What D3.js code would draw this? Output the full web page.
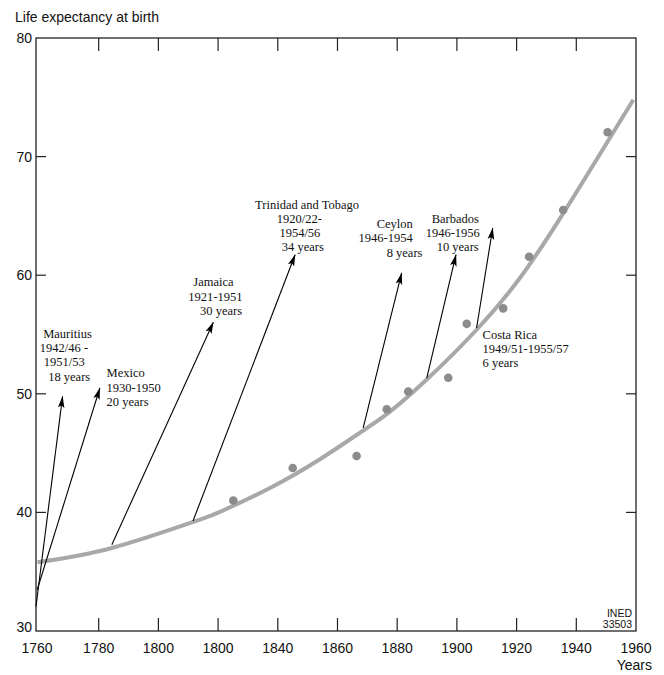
<!DOCTYPE html>
<html><head><meta charset="utf-8">
<script src="https://cdn.jsdelivr.net/npm/d3@7/dist/d3.min.js"></script>
<style>body{margin:0;background:#fff}</style>
</head><body>
<svg id="chart" width="664" height="675"></svg>
<script>
// ---- data ----
const curveYears  = [1759.5, 1784.4, 1811.7, 1820.6, 1837.4, 1854.1, 1868.6, 1877.6, 1889.9, 1906.6, 1921.1, 1934.5, 1948.0, 1959.1];
const curveValues = [35.8,   37.0,   39.2,   40.04,  42.06,  44.48,  46.9,   48.5,   51.2,   55.4,   59.76,  64.77,  70.24,  74.8];

const dotYears  = [1825.1, 1845.0, 1866.4, 1876.5, 1883.7, 1897.1, 1903.3, 1915.5, 1924.2, 1935.6, 1950.5];
const dotValues = [41.0,   43.75,  44.75,  48.7,   50.2,   51.35,  55.9,   57.2,   61.55,  65.5,   72.05];

const xTickYears  = [1760, 1780, 1800, 1820, 1840, 1860, 1880, 1900, 1920, 1940, 1960];
const xTickLabels = ["1760", "1780", "1800", "1800", "1840", "1860", "1880", "1900", "1920", "1940", "1960"];
const yTickValues = [30, 40, 50, 60, 70, 80];

const arrowNames  = ["Mauritius", "Mexico", "Jamaica", "Trinidad and Tobago", "Ceylon", "Barbados", "Costa Rica"];
const arrowLabels = [
  ["Mauritius", "1942/46 -", "1951/53", "18 years"],
  ["Mexico", "1930-1950", "20 years"],
  ["Jamaica", "1921-1951", "30 years"],
  ["Trinidad and Tobago", "1920/22-", "1954/56", "34 years"],
  ["Ceylon", "1946-1954", "8 years"],
  ["Barbados", "1946-1956", "10 years"],
  ["Costa Rica", "1949/51-1955/57", "6 years"]
];
const arrowFromYear  = [1759.0, 1759.4, 1784.4, 1811.6, 1868.6, 1889.9, 1906.6];
const arrowFromValue = [32.07,  33.48,  37.28,  39.28,  47.12,  51.33,  55.55];
const arrowToYear    = [1767.9, 1780.4, 1818.4, 1845.8, 1881.5, 1899.7, 1912.0];
const arrowToValue   = [49.78,  50.49,  56.04,  61.73,  60.19,  61.73,  63.98];

// ---- layout (label placement relative to arrow tip/base, pixels) ----
const labelLayout = [
  {ref: "to",   dx: [-19.4, -22.7, -18.7, -14.4], dy: -58.4},
  {ref: "to",   dx: [6.7, 6.7, 6.7],              dy: -10.6},
  {ref: "to",   dx: [-20, -25, -13.3],            dy: -35.8},
  {ref: "to",   dx: [-40, -18.3, -15.7, -13.3],   dy: -46},
  {ref: "to",   dx: [-25, -43.2, -15],            dy: -44.8},
  {ref: "to",   dx: [-24.3, -30.3, -19.3],        dy: -31.7},
  {ref: "from", dx: [6, 6, 6],                    dy: 10.7}
];
const lineHeight = 14.2;

const svg = d3.select("#chart");
const x = d3.scaleLinear().domain([1759, 1960]).range([36, 636]);
const y = d3.scaleLinear().domain([30, 80]).range([631, 38]);

const sans = "'Liberation Sans', Arial, Helvetica, sans-serif";
const serif = "'Liberation Serif', 'Times New Roman', Times, serif";
const frameColor = "#222";

// frame
svg.append("rect")
  .attr("x", x(1759)).attr("y", y(80))
  .attr("width", x(1960) - x(1759)).attr("height", y(30) - y(80))
  .attr("fill", "none").attr("stroke", frameColor).attr("stroke-width", 1.3);

// inner ticks
const innerX = xTickYears.slice(1, -1);
const innerY = yTickValues.slice(1, -1);
const tk = svg.append("g").attr("stroke", frameColor).attr("stroke-width", 1.2);
innerX.forEach(v => {
  tk.append("line").attr("x1", x(v)).attr("x2", x(v)).attr("y1", y(30)).attr("y2", y(30) - 13);
  tk.append("line").attr("x1", x(v)).attr("x2", x(v)).attr("y1", y(80)).attr("y2", y(80) + 13);
});
innerY.forEach(v => {
  tk.append("line").attr("x1", x(1759)).attr("x2", x(1759) + 10).attr("y1", y(v)).attr("y2", y(v));
  tk.append("line").attr("x1", x(1960)).attr("x2", x(1960) - 10).attr("y1", y(v)).attr("y2", y(v));
});

// tick labels
svg.append("g").selectAll("text").data(xTickYears).join("text")
  .attr("x", d => d === 1760 ? x(1759) + 1 : x(d))
  .attr("y", 653)
  .attr("text-anchor", "middle")
  .attr("font-family", sans).attr("font-size", 14).attr("fill", "#111")
  .text((d, i) => xTickLabels[i]);

svg.append("g").selectAll("text").data(yTickValues).join("text")
  .attr("x", 32)
  .attr("y", d => y(d) + (d === 30 ? -4 : 0))
  .attr("dy", "0.36em")
  .attr("text-anchor", "end")
  .attr("font-family", sans).attr("font-size", 14).attr("fill", "#111")
  .text(d => d);

svg.append("text").attr("x", 15).attr("y", 22)
  .attr("font-family", sans).attr("font-size", 14).attr("fill", "#111")
  .text("Life expectancy at birth");

svg.append("text").attr("x", 652).attr("y", 670).attr("text-anchor", "end")
  .attr("font-family", sans).attr("font-size", 14).attr("fill", "#111")
  .text("Years");

// INED code
const ined = svg.append("g").attr("font-family", "'Liberation Sans Narrow', 'Arial Narrow', " + sans)
  .attr("font-size", 10.5).attr("fill", "#111").attr("text-anchor", "end");
ined.append("text").attr("x", 632).attr("y", 617).text("INED");
ined.append("text").attr("x", 632).attr("y", 627.5).text("33503");

// trend curve
const curvePts = curveYears.map((d, i) => [x(d), y(curveValues[i])]);
svg.append("path")
  .attr("d", d3.line().curve(d3.curveNatural)(curvePts))
  .attr("fill", "none").attr("stroke", "#a8a8a8").attr("stroke-width", 4)
  .attr("stroke-linecap", "butt");

// dots
svg.append("g").selectAll("circle").data(dotYears).join("circle")
  .attr("cx", d => x(d)).attr("cy", (d, i) => y(dotValues[i]))
  .attr("r", 4.3).attr("fill", "#8c8c8c");

// arrows
svg.append("defs").append("marker")
  .attr("id", "ah").attr("markerUnits", "userSpaceOnUse")
  .attr("viewBox", "0 -4 12 8").attr("refX", 11.5).attr("refY", 0)
  .attr("markerWidth", 12).attr("markerHeight", 8).attr("orient", "auto")
  .append("path").attr("d", "M0,-3.3 L12,0 L0,3.3 L2.5,0 Z").attr("fill", "#000");

const ag = svg.append("g");
arrowNames.forEach((name, i) => {
  ag.append("line")
    .attr("x1", x(arrowFromYear[i])).attr("y1", y(arrowFromValue[i]))
    .attr("x2", x(arrowToYear[i])).attr("y2", y(arrowToValue[i]))
    .attr("stroke", "#000").attr("stroke-width", 1.1)
    .attr("marker-end", "url(#ah)");
  const L = labelLayout[i];
  const rx = L.ref === "to" ? x(arrowToYear[i]) : x(arrowFromYear[i]);
  const ry = L.ref === "to" ? y(arrowToValue[i]) : y(arrowFromValue[i]);
  arrowLabels[i].forEach((t, j) => {
    ag.append("text")
      .attr("x", rx + L.dx[j]).attr("y", ry + L.dy + j * lineHeight)
      .attr("font-family", serif).attr("font-size", 12.5).attr("fill", "#111")
      .text(t);
  });
});
</script>
</body></html>
